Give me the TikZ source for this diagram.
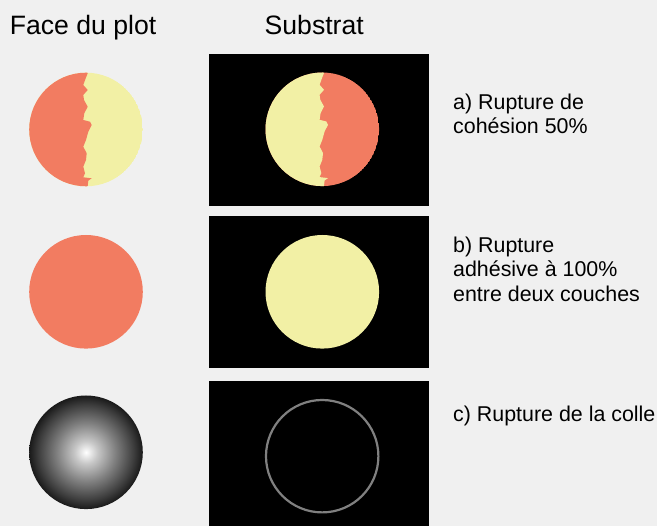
\documentclass[tikz,border=0pt]{standalone}
\usepackage{fontspec}
\setmainfont{Liberation Sans}
\definecolor{bgc}{HTML}{F0F0F0}
\definecolor{orangec}{HTML}{F27C61}
\definecolor{yellowc}{HTML}{F2F0A5}
\definecolor{ringc}{HTML}{808080}
\pgfdeclareradialshading{ballshade}{\pgfpoint{0bp}{0bp}}{color(0bp)=(white); color(5bp)=(black!22); color(13bp)=(black!50); color(21bp)=(black!76); color(25bp)=(black!90); color(50bp)=(black!90)}
\tikzset{
  head/.style={anchor=base west, inner sep=0pt, font=\fontsize{26.6}{30}\selectfont},
  side/.style={anchor=base west, inner sep=0pt, font=\fontsize{21.4}{25}\selectfont},
  plate/.style={fill=black, draw=none},
}
\newcommand{\crackpath}{(-70,-66) -- (1.7,-66) -- (1.7,-56.2) -- (-0.3,-51.2) -- (-2.7,-44.5) -- (1.7,-39.5) -- (-2.7,-34.5) -- (-2,-29.5) -- (1.7,-22.8) -- (-1.7,-16.2) -- (-2.7,-9.5) -- (4,-7.8) -- (5.7,-4.5) -- (2.3,2.2) -- (0,10.5) -- (-2.7,17.2) -- (0.7,23.8) -- (0,30.5) -- (-2.7,37.2) -- (-1,43.8) -- (-2.7,47.8) -- (5.7,48.8) -- (2.3,51.2) -- (1.7,56.5) -- (1.7,66) -- (-70,66) -- cycle}
\begin{document}
\begin{tikzpicture}[x=1pt,y=-1pt]
\fill[bgc] (0,0) rectangle (657,526);
\useasboundingbox (0,0) rectangle (657,526);

% headers
\node[head] (h1) at (9.7,34.3) {Face du plot};
\node[head] (h2) at (264.5,34.3) {Substrat};

% plates
\fill[plate] (209,54) rectangle (429,205.7);
\fill[plate] (209,215.8) rectangle (429,367.8);
\fill[plate] (209,380.8) rectangle (429,526);

% row a : face
\begin{scope}
  \clip (86,129.5) circle (56.8);
  \fill[yellowc] (86,129.5) circle (56.8);
  \fill[orangec, shift={(86,129.5)}] \crackpath;
\end{scope}
% row a : substrate
\begin{scope}
  \clip (322.3,129.3) circle (56.8);
  \fill[orangec] (322.3,129.3) circle (56.8);
  \fill[yellowc, shift={(322.3,129.3)}] \crackpath;
\end{scope}

% row b
\fill[orangec] (86,291.8) circle (56.8);
\fill[yellowc] (322.3,291.8) circle (56.8);

% row c
\shade[shading=ballshade] (86,452.3) circle (56.8);
\draw[ringc, line width=2.2pt] (322.2,456.2) circle (56.2);

% labels
\node[side] (a1) at (453,109.3) {a) Rupture de};
\node[side] (a2) at (453,134) {cohésion 50\%};
\node[side] (b1) at (453,252.3) {b) Rupture};
\node[side] (b2) at (453,276.7) {adhésive à 100\%};
\node[side] (b3) at (453,301.7) {entre deux couches};
\node[side] (c1) at (453,421.7) {c) Rupture de la colle};
\end{tikzpicture}
\end{document}
